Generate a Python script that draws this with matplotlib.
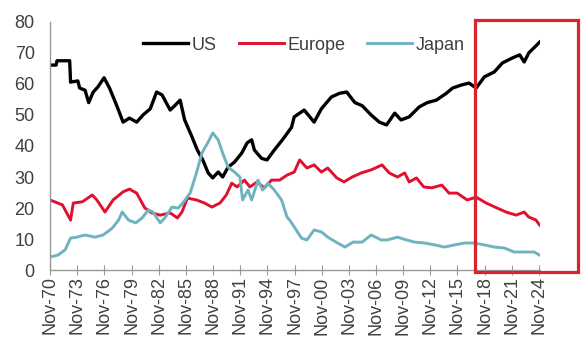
import numpy as np
import matplotlib
matplotlib.use("Agg")
import matplotlib.pyplot as plt
from matplotlib.patches import Rectangle

plt.rcParams['font.family'] = ['Liberation Sans', 'DejaVu Sans']

# share of world market cap (%), read at irregular dates (decimal years)
us_t = [1970.83, 1971.5, 1971.6, 1973.0, 1973.1, 1973.9, 1974.1, 1974.7, 1975.1, 1975.6,
        1976.1, 1976.8, 1977.4, 1978.2, 1978.9, 1979.6, 1980.4, 1981.1, 1981.9, 1982.6,
        1983.2, 1984.1, 1984.6, 1985.2, 1985.7, 1986.5, 1987.1, 1987.7, 1988.3, 1988.8,
        1989.4, 1989.9, 1990.5, 1991.2, 1992.0, 1992.6, 1993.1, 1993.4, 1994.2, 1994.8,
        1995.6, 1996.5, 1997.5, 1997.8, 1998.9, 2000.0, 2000.8, 2001.9, 2002.8, 2003.6,
        2004.5, 2005.3, 2006.3, 2007.2, 2008.0, 2008.9, 2009.6, 2010.5, 2011.6, 2012.5,
        2013.5, 2014.6, 2015.3, 2016.3, 2017.1, 2017.9, 2018.8, 2019.9, 2020.8, 2021.9,
        2022.7, 2023.2, 2023.7, 2024.6, 2024.9]
us_v = [66.1, 66.1, 67.5, 67.5, 60.6, 61.0, 58.7, 58.0, 54.0, 57.4,
        59.0, 62.0, 58.7, 53.0, 47.7, 49.0, 47.7, 50.0, 52.0, 57.4,
        56.5, 51.6, 53.0, 54.8, 48.4, 43.0, 38.7, 35.5, 31.3, 29.7,
        31.6, 30.0, 33.2, 34.8, 37.7, 41.0, 42.0, 38.7, 36.0, 35.5,
        38.7, 42.0, 46.0, 49.4, 51.6, 47.7, 52.0, 55.8, 57.0, 57.4,
        54.0, 53.0, 50.0, 47.7, 46.8, 50.6, 48.4, 49.4, 52.6, 54.0,
        54.8, 57.0, 58.7, 59.7, 60.3, 58.7, 62.3, 63.9, 66.8, 68.4,
        69.4, 67.1, 70.0, 72.6, 73.5]

eu_t = [1970.83, 1972.2, 1973.1, 1973.4, 1974.4, 1975.5, 1976.0, 1976.9, 1977.8, 1978.9,
        1979.6, 1980.4, 1981.3, 1982.1, 1983.0, 1984.1, 1984.9, 1985.4, 1986.0, 1987.0,
        1987.9, 1988.7, 1989.6, 1990.3, 1990.9, 1991.5, 1992.3, 1992.9, 1993.7, 1994.5,
        1995.3, 1996.2, 1997.0, 1997.8, 1998.4, 1999.2, 2000.0, 2000.8, 2001.5, 2002.5,
        2003.3, 2004.2, 2005.2, 2006.3, 2007.5, 2008.3, 2009.2, 2010.0, 2010.5, 2011.3,
        2012.1, 2013.0, 2014.1, 2014.9, 2015.8, 2016.9, 2017.9, 2019.0, 2020.2, 2021.2,
        2022.3, 2023.2, 2023.7, 2024.5, 2024.9]
eu_v = [22.6, 21.0, 16.1, 21.6, 22.0, 24.2, 22.6, 18.7, 22.6, 25.2,
        26.1, 24.8, 20.0, 18.4, 17.7, 18.4, 16.8, 18.7, 23.2, 22.6,
        21.6, 20.3, 21.6, 24.2, 28.0, 26.8, 29.0, 26.8, 28.4, 26.5,
        29.0, 29.0, 30.6, 31.6, 35.5, 32.9, 33.9, 31.6, 32.9, 29.7,
        28.4, 30.0, 31.3, 32.3, 33.9, 31.3, 30.0, 31.3, 28.4, 29.7,
        26.8, 26.5, 27.4, 24.8, 24.8, 22.6, 23.5, 21.6, 20.0, 18.7,
        17.7, 18.7, 17.1, 16.1, 14.5]

jp_t = [1970.83, 1971.7, 1972.5, 1973.1, 1973.8, 1974.7, 1975.8, 1976.7, 1977.7, 1978.4,
        1978.8, 1979.5, 1980.3, 1981.0, 1981.7, 1982.2, 1983.0, 1983.5, 1984.3, 1985.0,
        1985.6, 1986.3, 1987.0, 1987.6, 1988.3, 1988.8, 1989.4, 1989.9, 1990.5, 1991.2,
        1991.8, 1992.1, 1992.7, 1993.1, 1993.8, 1994.3, 1994.9, 1995.6, 1996.4, 1997.0,
        1997.3, 1997.8, 1998.6, 1999.2, 2000.0, 2000.8, 2001.5, 2002.6, 2003.4, 2004.3,
        2005.3, 2006.3, 2007.4, 2008.1, 2009.2, 2010.2, 2011.1, 2012.2, 2013.3, 2014.4,
        2015.5, 2016.6, 2017.7, 2018.8, 2019.9, 2021.0, 2022.1, 2023.2, 2024.3, 2024.9]
jp_v = [4.2, 4.8, 6.5, 10.3, 10.6, 11.3, 10.6, 11.3, 13.5, 16.1,
        18.7, 16.1, 15.2, 16.8, 19.4, 18.7, 15.2, 16.8, 20.3, 20.0,
        22.0, 24.8, 31.3, 37.7, 41.3, 44.2, 42.0, 37.7, 33.2, 31.6,
        30.0, 22.6, 25.8, 22.6, 29.0, 25.8, 28.0, 25.8, 22.6, 17.1,
        16.1, 13.9, 10.3, 9.7, 12.9, 12.3, 10.6, 8.7, 7.4, 9.0,
        9.0, 11.3, 9.7, 9.7, 10.6, 9.7, 9.0, 8.7, 8.1, 7.4,
        8.1, 8.7, 8.7, 8.1, 7.4, 7.1, 5.8, 5.8, 5.8, 4.8]

tick_years = list(range(1970, 2025, 3))
tick_labels = ["Nov-%02d" % (y % 100) for y in tick_years]

grey = "#404040"
fig = plt.figure(figsize=(5.81, 3.43), dpi=100)
ax = fig.add_axes([0.0861, 0.2128, 0.8434, 0.7231])

ax.plot(us_t, us_v, color="black", lw=2.4, label="US")
ax.plot(eu_t, eu_v, color="#e0102e", lw=2.1, label="Europe")
ax.plot(jp_t, jp_v, color="#6fb3bf", lw=2.1, label="Japan")

ax.set_xlim(1970.83, 2024.95)
ax.set_ylim(0, 80)
ax.set_yticks(range(0, 81, 10))
ax.set_xticks([y + 10 / 12 for y in tick_years])
ax.set_xticklabels(tick_labels, rotation=90)

for s in ["top", "right"]:
    ax.spines[s].set_visible(False)
for s in ["left", "bottom"]:
    ax.spines[s].set_color("#9a9a9a")
    ax.spines[s].set_linewidth(1.0)
ax.tick_params(axis="x", direction="inout", length=7, color="#9a9a9a",
               labelsize=13, labelcolor=grey, pad=1)
ax.tick_params(axis="y", length=0, labelsize=13, labelcolor=grey, pad=11)

fig.legend(loc="center", bbox_to_anchor=(304 / 581, 1 - 45 / 343), ncol=3,
           frameon=False, fontsize=13, handlelength=2.5, handletextpad=0.2,
           columnspacing=1.2, labelcolor=grey)

# highlight box over the most recent years
fig.patches.append(Rectangle((475 / 581, 71 / 343), 103 / 581, 252 / 343,
                             transform=fig.transFigure, fill=False,
                             edgecolor="#d9232e", lw=2.3))

fig.savefig("out.png", dpi=100)
